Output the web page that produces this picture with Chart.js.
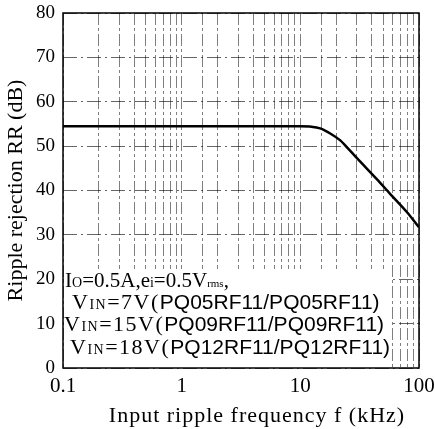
<!DOCTYPE html>
<html>
<head>
<meta charset="utf-8">
<script src="https://cdn.jsdelivr.net/npm/chart.js@4"></script>
<style>
    body { margin: 0; background: #fff; }
    #wrap { position: relative; width: 435px; height: 429px; }
    #note {
        position: absolute; left: 64px; top: 269px; width: 326px; height: 98px;
        background: #fff; font-family: "Liberation Serif", serif; color: #000;
    }
    #note .row { position: absolute; white-space: nowrap; font-size: 22px; line-height: 22px; letter-spacing: 1.5px; }
    #note .first { font-size: 21px; letter-spacing: 0; }
    #note .sm { font-size: 14px; }
    #note .xs { font-size: 11px; }
    #note .sans { font-family: "Liberation Sans", sans-serif; font-size: 21px; letter-spacing: 0; }
</style>
</head>
<body>
<div id="wrap">
    <canvas id="rrChart" width="435" height="429"></canvas>
    <div id="note">
        <div class="row first" style="left:1px; top:0px;">I<span class="sm">O</span>=0.5A,e<span class="sm">i</span>=0.5V<span class="xs">rms</span>,</div>
        <div class="row" style="left:8px; top:22px;">V<span class="sm">IN</span>=7V(<span class="sans">PQ05RF11/PQ05RF11)</span></div>
        <div class="row" style="left:0px; top:44px;">V<span class="sm">IN</span>=15V(<span class="sans">PQ09RF11/PQ09RF11)</span></div>
        <div class="row" style="left:6px; top:67px;">V<span class="sm">IN</span>=18V(<span class="sans">PQ12RF11/PQ12RF11)</span></div>
    </div>
</div>
<script>
// ripple rejection vs. input ripple frequency
const freqKHz = [0.1, 1, 10, 12, 14.7, 18, 21.7, 26, 32, 44.3, 57.3, 79.3, 100];
const rejectionDb = [54.5, 54.5, 54.5, 54.4, 54.0, 52.8, 51.3, 49.1, 46.5, 42.5, 39.2, 35.1, 31.7];

const xDecades = [0.1, 1, 10, 100];
const xTickLabels = ['0.1', '1', '10', '100'];
const yTicks = [0, 10, 20, 30, 40, 50, 60, 70, 80];
const xTitle = 'Input ripple frequency f (kHz)';

const serif = 'Liberation Serif, serif';

// full box around the plot area, plus the x title sitting a bit right of centre
const frameBox = {
    id: 'frameBox',
    afterDraw(chart) {
        const a = chart.chartArea;
        const ctx = chart.ctx;
        ctx.save();
        ctx.strokeStyle = '#000';
        ctx.lineWidth = 1.5;
        ctx.strokeRect(a.left, a.top, a.right - a.left, a.bottom - a.top);

        ctx.fillStyle = '#000';
        ctx.font = '22px ' + serif;
        ctx.letterSpacing = '1px';
        ctx.textAlign = 'center';
        ctx.textBaseline = 'middle';
        ctx.fillText(xTitle, (a.left + a.right) / 2 + 16, chart.height - 13);
        ctx.restore();
    }
};

const ctx = document.getElementById('rrChart').getContext('2d');

new Chart(ctx, {
    type: 'line',
    data: {
        datasets: [{
            data: freqKHz.map((f, i) => ({ x: f, y: rejectionDb[i] })),
            borderColor: '#000',
            borderWidth: 2.5,
            pointRadius: 0,
            fill: false,
            cubicInterpolationMode: 'monotone'
        }]
    },
    options: {
        responsive: false,
        animation: false,
        devicePixelRatio: 1,
        layout: { padding: { top: 13, right: 16, left: 0, bottom: 0 } },
        plugins: {
            legend: { display: false },
            tooltip: { enabled: false }
        },
        scales: {
            x: {
                type: 'logarithmic',
                min: 0.1,
                max: 100,
                grid: {
                    color: 'rgba(0,0,0,0.5)',
                    lineWidth: 1,
                    drawTicks: false
                },
                border: { display: false, dash: [12, 3, 3, 3] },
                ticks: {
                    autoSkip: false,
                    maxRotation: 0,
                    padding: 6,
                    color: '#000',
                    font: { family: serif, size: 21 },
                    callback: function (value) {
                        const k = xDecades.findIndex(d => Math.abs(d - value) < 1e-9);
                        return k >= 0 ? xTickLabels[k] : '';
                    }
                },
                afterFit: function (scale) {
                    scale.height = 61;
                    scale.paddingLeft = 0;
                    scale.paddingRight = 0;
                }
            },
            y: {
                min: 0,
                max: 80,
                afterBuildTicks: function (scale) {
                    scale.ticks = yTicks.map(v => ({ value: v }));
                },
                grid: {
                    color: 'rgba(0,0,0,0.6)',
                    lineWidth: 1,
                    drawTicks: false
                },
                border: { display: false, dash: [14, 4, 2, 4] },
                ticks: {
                    padding: 8,
                    color: '#000',
                    font: { family: serif, size: 19 }
                },
                title: {
                    display: true,
                    text: 'Ripple rejection RR (dB)',
                    color: '#000',
                    font: { family: serif, size: 22 },
                    padding: { top: 3, bottom: 0 }
                },
                afterFit: function (scale) {
                    scale.width = 63;
                    scale.paddingTop = 0;
                    scale.paddingBottom = 0;
                }
            }
        }
    },
    plugins: [frameBox]
});
</script>
</body>
</html>
